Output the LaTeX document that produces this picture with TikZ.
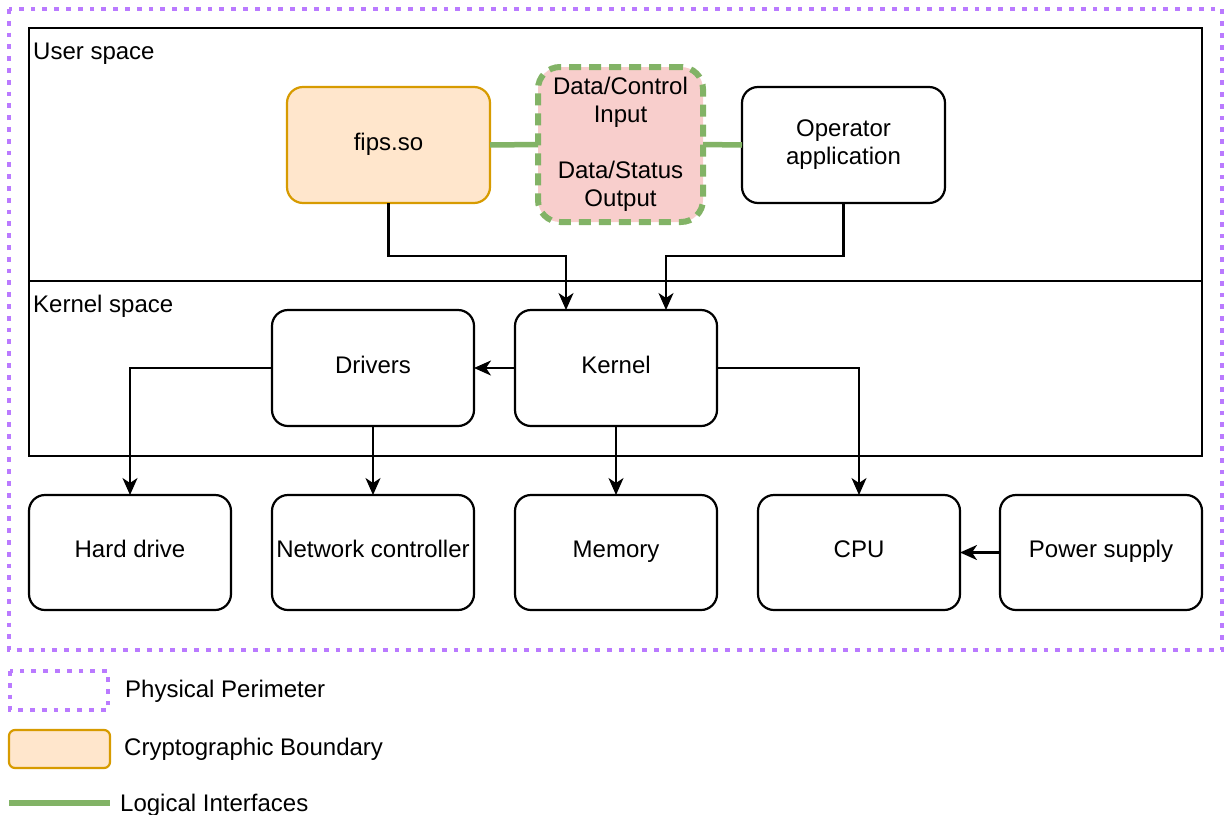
\documentclass[tikz,border=0pt]{standalone}
\usepackage{fontspec}
\setmainfont{Liberation Sans}
\usetikzlibrary{arrows.meta}
\definecolor{perim}{RGB}{186,122,255}
\definecolor{cryptofill}{HTML}{FFE6CC}
\definecolor{cryptoline}{HTML}{D79B00}
\definecolor{pinkfill}{HTML}{F8CECC}
\definecolor{greenline}{HTML}{82B366}
\tikzset{
  every node/.style={font=\fontsize{24}{28}\selectfont, text=black},
  perimeter/.style={draw=perim, line width=4.8pt, dash pattern=on 4.8pt off 7pt},
  spacebox/.style={draw=black, line width=2.2pt},
  box/.style={draw=black, line width=2.2pt, rounded corners=16pt, fill=white, inner sep=0pt, outer sep=0pt, align=center},
  onebox/.style={box, text height=17pt, text depth=7pt},
  cryptobox/.style={onebox, draw=cryptoline, fill=cryptofill},
  ifacebox/.style={draw=greenline, line width=6pt, dash pattern=on 12pt off 8pt, rounded corners=22pt, fill=pinkfill, inner sep=0pt, outer sep=0pt, align=center},
  logical/.style={draw=greenline, line width=5.5pt},
  arr/.style={draw=black, line width=2.2pt, -{Stealth[length=17pt,width=15pt,inset=5pt]}},
  lbl/.style={anchor=base west, inner sep=0pt},
}
\begin{document}
\begin{tikzpicture}[x=1pt, y=-1pt]
\useasboundingbox (0,0) rectangle (1225,814);
% physical perimeter
\draw[perimeter] (9,9) rectangle (1222,650);
% spaces
\draw[spacebox] (29,28) rectangle (1202,281);
\draw[spacebox] (29,281) rectangle (1202,456);
\node[lbl] (us) at (33,59) {User space};
\node[lbl] (ks) at (33,312) {Kernel space};
% user space nodes
\node[cryptobox, minimum width=203pt, minimum height=116pt] (fips) at (388.5,145) {fips.so};
\node[ifacebox, minimum width=165pt, minimum height=155pt] (dc) at (620.5,144.5) {Data/Control\\Input\\[28pt]Data/Status\\Output};
\node[box, minimum width=203pt, minimum height=116pt] (op) at (843.5,145) {Operator\\application};
% kernel space nodes
\node[onebox, minimum width=202pt, minimum height=116pt] (drivers) at (373,368) {Drivers};
\node[onebox, minimum width=202pt, minimum height=116pt] (kernel) at (616,368) {Kernel};
% hardware
\node[onebox, minimum width=202pt, minimum height=115pt] (hd) at (130,552.5) {Hard drive};
\node[onebox, minimum width=202pt, minimum height=115pt] (nc) at (373,552.5) {Network controller};
\node[onebox, minimum width=202pt, minimum height=115pt] (mem) at (616,552.5) {Memory};
\node[onebox, minimum width=202pt, minimum height=115pt] (cpu) at (859,552.5) {CPU};
\node[onebox, minimum width=202pt, minimum height=115pt] (ps) at (1101,552.5) {Power supply};
% logical interfaces
\draw[logical] (fips.east) -- (dc.west);
\draw[logical] (dc.east) -- (op.west);
% connectors
\coordinate (k1) at ([xshift=-50pt]kernel.north);
\coordinate (k2) at ([xshift=50pt]kernel.north);
\coordinate (r1) at (388.5,256);
\coordinate (r2) at (843.5,256);
\draw[arr] (fips.south) -- (r1) -| (k1);
\draw[arr] (op.south) -- (r2) -| (k2);
\draw[arr] (kernel.west) -- (drivers.east);
\draw[arr] (drivers.west) -| (hd.north);
\draw[arr] (drivers.south) -- (nc.north);
\draw[arr] (kernel.south) -- (mem.north);
\draw[arr] (kernel.east) -| (cpu.north);
\draw[arr] (ps.west) -- (cpu.east);
% legend
\draw[perimeter] (10,671) rectangle (108,710);
\node[lbl] (lp) at (125,697) {Physical Perimeter};
\draw[draw=cryptoline, fill=cryptofill, line width=2.2pt, rounded corners=6pt] (9,730) rectangle (110,768);
\node[lbl] (lc) at (124,755) {Cryptographic Boundary};
\draw[logical] (9,803) -- (110,803);
\node[lbl] (ll) at (120,811) {Logical Interfaces};
\end{tikzpicture}
\end{document}
